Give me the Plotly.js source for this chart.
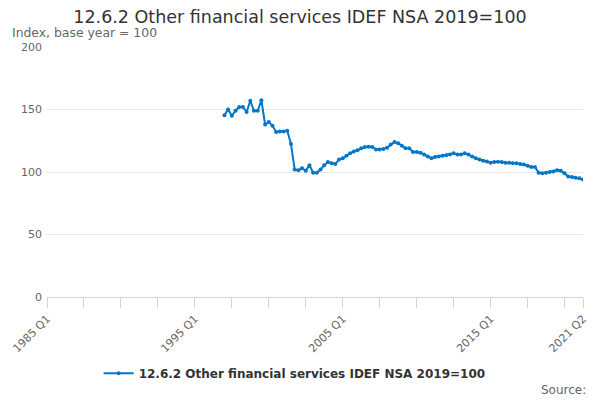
<!DOCTYPE html>
<html>
<head>
<meta charset="utf-8">
<script src="https://cdn.plot.ly/plotly-3.0.1.min.js"></script>
<style>
  html, body { margin: 0; padding: 0; background: #fff; }
  #chart { width: 600px; height: 400px; }
</style>
</head>
<body>
<div id="chart"></div>
<script>
// axis runs 1985 Q1 .. 2021 Q2, series starts 1997 Q1
var firstYear = 1985;
var lastYear = 2021;
var lastQuarter = 2;
var seriesStart = "1997 Q1";
var seriesName = "12.6.2 Other financial services IDEF NSA 2019=100";

var values = [
  145.5, 150, 145, 149, 152, 152, 148, 157, 149, 149, 157.5, 138,
  140, 137, 132, 132.5, 132.5, 133, 122.5, 102, 101.5, 103, 101, 105.5,
  99.5, 99.5, 102, 105.5, 108, 107, 106.5, 110, 111, 113, 115, 116.5,
  117.5, 119, 120, 120.3, 120, 118, 118, 118.5, 119.5, 122, 124, 123,
  121, 119, 119, 116, 116, 115.5, 114, 112.5, 111, 112, 112.5, 113,
  113.5, 114, 115, 114, 114, 115, 114, 112.5, 111, 110, 109, 108.5,
  107.5, 108, 108.3, 108, 107.5, 107.5, 107, 107, 106.5, 106, 105, 104,
  104, 99.5, 99, 99.5, 100, 100.5, 101.5, 101, 99, 96.5, 96, 95.5,
  95, 94
];

var labelledTicks = ["1985 Q1", "1995 Q1", "2005 Q1", "2015 Q1", "2021 Q2"];

// all quarter categories on the axis
var quarters = [];
for (var y = firstYear; y <= lastYear; y++) {
  for (var q = 1; q <= 4; q++) {
    if (y == lastYear && q > lastQuarter) break;
    quarters.push(y + " Q" + q);
  }
}

var startIdx = quarters.indexOf(seriesStart);
var xs = quarters.slice(startIdx, startIdx + values.length);

// a tick every 10 quarters, plus the last one
var tickvals = [];
var ticktext = [];
for (var i = 0; i < quarters.length; i++) {
  if (i % 10 == 0 || i == quarters.length - 1) {
    tickvals.push(quarters[i]);
    ticktext.push(labelledTicks.indexOf(quarters[i]) >= 0 ? quarters[i] : "");
  }
}

var trace = {
  x: xs,
  y: values,
  type: "scatter",
  mode: "lines+markers",
  name: seriesName,
  line: { color: "#0077c8", width: 2 },
  marker: { color: "#0077c8", size: 4 },
  hoverinfo: "skip"
};

var layout = {
  width: 600,
  height: 400,
  margin: { l: 47, r: 17, t: 47, b: 103 },
  paper_bgcolor: "#fff",
  plot_bgcolor: "#fff",
  font: { family: "DejaVu Sans", color: "#333" },
  title: {
    text: "12.6.2 Other financial services IDEF NSA 2019=100",
    font: { size: 17.5, color: "#333" },
    x: 0.5, xanchor: "center",
    y: 0.958, yanchor: "middle"
  },
  showlegend: true,
  legend: {
    orientation: "h",
    x: 0.462, xanchor: "center",
    y: -0.305, yanchor: "middle",
    font: { size: 12, color: "#333", weight: "bold" }
  },
  xaxis: {
    type: "category",
    categoryorder: "array",
    categoryarray: quarters,
    range: [0, quarters.length - 1],
    tickvals: tickvals,
    ticktext: ticktext,
    tickangle: -45,
    ticks: "outside",
    ticklen: 10,
    tickcolor: "#ccd6eb",
    showline: true,
    linecolor: "#ccd6eb",
    showgrid: false,
    zeroline: false,
    tickfont: { size: 11, color: "#666" }
  },
  yaxis: {
    range: [0, 200],
    tickvals: [0, 50, 100, 150, 200],
    gridcolor: "#e6e6e6",
    zeroline: false,
    showline: false,
    tickfont: { size: 11, color: "#666" },
    ticklabelstandoff: 4
  },
  annotations: [
    {
      text: "Index, base year = 100",
      xref: "paper", yref: "paper",
      x: -0.069, y: 1.058,
      xanchor: "left", yanchor: "middle",
      showarrow: false,
      font: { size: 12.4, color: "#666" }
    },
    {
      text: "Source:",
      xref: "paper", yref: "paper",
      x: 1.01, y: -0.372,
      xanchor: "right", yanchor: "middle",
      showarrow: false,
      font: { size: 12, color: "#666" }
    }
  ]
};

Plotly.newPlot("chart", [trace], layout, { displayModeBar: false, staticPlot: true });
</script>
</body>
</html>
